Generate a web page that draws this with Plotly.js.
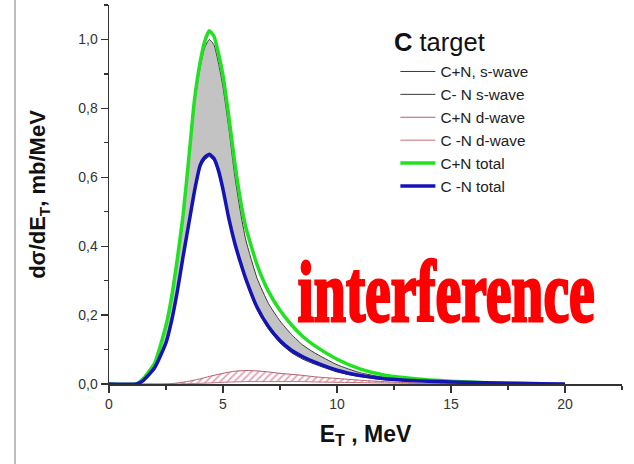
<!DOCTYPE html>
<html>
<head>
<meta charset="utf-8">
<script src="https://cdn.plot.ly/plotly-3.0.1.min.js"></script>
<style>html,body{margin:0;padding:0;background:#fff;}#chart{width:634px;height:464px;}</style>
</head>
<body>
<div id="chart"></div>
<script>
// Energy grid (MeV) for s-wave and total curves
const E = [0, 1.2, 1.5, 2, 2.5, 2.75, 3, 3.25, 3.5, 3.75, 4, 4.2, 4.4, 4.6, 4.8, 5, 5.25, 5.5, 5.75, 6, 6.5, 7, 7.5, 8, 8.5, 9, 10, 11, 12, 13, 14, 15, 16, 17, 18, 19, 20];
// C+N total (green)
const cnTotal = [0, 0, 0.015, 0.06, 0.17, 0.254, 0.365, 0.49, 0.655, 0.825, 0.935, 0.995, 1.025, 1.01, 0.96, 0.895, 0.779, 0.65, 0.54, 0.455, 0.345, 0.268, 0.214, 0.172, 0.138, 0.112, 0.072, 0.044, 0.027, 0.018, 0.012, 0.008, 0.005, 0.003, 0.001, null, null];
// C-N total (blue)
const cmnTotal = [0, 0, 0.01, 0.047, 0.12, 0.185, 0.27, 0.37, 0.465, 0.56, 0.635, 0.658, 0.667, 0.655, 0.62, 0.565, 0.482, 0.413, 0.356, 0.305, 0.222, 0.166, 0.126, 0.098, 0.079, 0.064, 0.04, 0.025, 0.016, 0.011, 0.008, 0.006, 0.004, 0.003, 0.002, 0.001, 0];
// C+N s-wave (upper edge of grey band)
const cnS = [0, 0, 0.015, 0.06, 0.17, 0.253, 0.362, 0.485, 0.647, 0.813, 0.92, 0.977, 1.0, 0.985, 0.932, 0.862, 0.745, 0.612, 0.505, 0.418, 0.306, 0.233, 0.183, 0.144, 0.113, 0.091, 0.056, 0.033, 0.02, 0.014, 0.01, 0.007, 0.004, 0.002, 0.001, 0, 0];
// C-N s-wave (lower edge of grey band)
const cmnS = [0, 0, 0.01, 0.047, 0.12, 0.184, 0.268, 0.367, 0.46, 0.555, 0.628, 0.65, 0.66, 0.648, 0.613, 0.56, 0.477, 0.407, 0.35, 0.298, 0.215, 0.159, 0.119, 0.091, 0.072, 0.058, 0.035, 0.021, 0.013, 0.009, 0.007, 0.005, 0.004, 0.003, 0.002, 0.001, 0];
// d-wave grid and curves
const Ed = [0, 2.5, 3, 3.5, 4, 4.4, 5, 5.5, 6, 6.5, 7, 7.5, 8, 8.5, 9, 10, 11, 12, 13, 14, 15, 15.5];
const cnD = [0, 0, 0.003, 0.008, 0.015, 0.022, 0.031, 0.037, 0.039, 0.038, 0.035, 0.031, 0.028, 0.025, 0.021, 0.016, 0.011, 0.007, 0.004, 0.002, 0.001, 0];
const cmnD = [0, 0, 0, 0.001, 0.002, 0.003, 0.005, 0.006, 0.007, 0.007, 0.007, 0.007, 0.007, 0.007, 0.006, 0.005, 0.004, 0.003, 0.002, 0.001, 0, 0];

const names = ['C+N, s-wave', 'C- N s-wave', 'C+N d-wave', 'C -N d-wave', 'C+N total', 'C -N total'];
const xTicks = [0, 5, 10, 15, 20];
const yTicks = [0, 0.2, 0.4, 0.6, 0.8, 1.0];

const sp = {shape: 'spline', smoothing: 0.5};
const traces = [
  // grey band between s-waves (fill only)
  {x: E, y: cmnS, mode: 'lines', line: {width: 0, ...sp}, showlegend: false, hoverinfo: 'skip'},
  {x: E, y: cnS, mode: 'lines', line: {width: 0, ...sp}, fill: 'tonexty', fillcolor: '#c3c3c3', showlegend: false, hoverinfo: 'skip'},
  // hatched band between d-waves (fill only)
  {x: Ed, y: cmnD, mode: 'lines', line: {width: 0, ...sp}, showlegend: false, hoverinfo: 'skip'},
  {x: Ed, y: cnD, mode: 'lines', line: {width: 0, ...sp}, fill: 'tonexty', fillcolor: 'rgba(255,255,255,0)',
   fillpattern: {shape: '/', fgcolor: '#e7a3b6', bgcolor: 'rgba(255,255,255,0)', size: 5, solidity: 0.35}, showlegend: false, hoverinfo: 'skip'},
  // lines
  {x: E, y: cnS, name: names[0], mode: 'lines', line: {color: '#3a3a3a', width: 1, ...sp}, legendrank: 1},
  {x: E, y: cmnS, name: names[1], mode: 'lines', line: {color: '#3a3a3a', width: 1, ...sp}, legendrank: 2},
  {x: Ed, y: cnD, name: names[2], mode: 'lines', line: {color: '#b0606e', width: 1, ...sp}, legendrank: 3},
  {x: Ed, y: cmnD, name: names[3], mode: 'lines', line: {color: '#c0707c', width: 1, ...sp}, legendrank: 4},
  {x: E, y: cnTotal, name: names[4], mode: 'lines', line: {color: '#22e022', width: 3.5, ...sp}, legendrank: 5},
  {x: E, y: cmnTotal, name: names[5], mode: 'lines', line: {color: '#1414b4', width: 3.5, ...sp}, legendrank: 6}
];

const layout = {
  width: 634, height: 464,
  margin: {l: 109, r: 12, t: 5, b: 80},
  paper_bgcolor: '#fff', plot_bgcolor: '#fff',
  separators: ', ',
  font: {family: 'Liberation Sans, Arial, sans-serif', color: '#222'},
  showlegend: true,
  legend: {
    x: 0.568, y: 0.868, xanchor: 'left', yanchor: 'top',
    bgcolor: 'rgba(255,255,255,0)', borderwidth: 0,
    font: {size: 15.3, color: '#222'},
    traceorder: 'normal', tracegroupgap: 0
  },
  xaxis: {
    range: [0, 22.5], tickvals: xTicks, ticks: 'outside', ticklen: 7, tickwidth: 1.2, tickcolor: '#333',
    showline: true, linecolor: '#333', linewidth: 1.5, showgrid: false, zeroline: false,
    tickfont: {size: 14, color: '#333'},
    minor: {dtick: 2.5, tick0: 0, ticks: 'outside', ticklen: 4, tickcolor: '#333', showgrid: false},
    title: {text: '<b>E<sub>T</sub> , MeV</b>', font: {size: 23, color: '#111'}, standoff: 14}
  },
  yaxis: {
    range: [0, 1.1], tickvals: yTicks, tickformat: '.1f', ticks: 'outside', ticklen: 7, tickwidth: 1.2, tickcolor: '#333',
    showline: true, linecolor: '#333', linewidth: 1.5, showgrid: false, zeroline: false,
    tickfont: {size: 14, color: '#333'},
    minor: {dtick: 0.1, tick0: 0, ticks: 'outside', ticklen: 4, tickcolor: '#333', showgrid: false},
    title: {text: '<b>dσ/dE<sub>T</sub>, mb/MeV</b>', font: {size: 22, color: '#111'}, standoff: 26}
  },
  shapes: [
    {type: 'line', xref: 'paper', yref: 'paper', x0: -0.1832, x1: -0.1832, y0: -0.22, y1: 1.02,
     line: {color: '#bdbdbd', width: 2}}
  ],
  annotations: [
    {xref: 'paper', yref: 'paper', x: 0.552, y: 0.902, xanchor: 'left', yanchor: 'middle', showarrow: false,
     text: '<b>C</b> target', font: {size: 25.5, color: '#111'}},
    {xref: 'paper', yref: 'paper', x: 0.657, y: 0.243, xanchor: 'center', yanchor: 'middle', showarrow: false,
     text: '<b>interference</b>', font: {family: 'Liberation Serif, DejaVu Serif, serif', size: 86, color: '#ff0000'}}
  ]
};

Plotly.newPlot('chart', traces, layout, {displayModeBar: false, staticPlot: true}).then(function () {
  const anns = document.querySelectorAll('.annotation-text');
  const t = anns[anns.length - 1];
  if (t) {
    // condense the heavy red label horizontally to the reference's width (~297 px)
    const bb = t.getBBox();
    const s = 297 / bb.width;
    const cx = bb.x + bb.width / 2;
    const prev = t.getAttribute('transform') || '';
    t.setAttribute('transform', prev + ' translate(' + cx + ',0) scale(' + s + ',1) translate(' + (-cx) + ',0)');
    t.style.stroke = '#ff0000';
    t.style.strokeWidth = '3px';
  }
  // longer legend line samples, as in the reference
  document.querySelectorAll('.legend .legendlines path').forEach(function (p) {
    p.setAttribute('d', 'M-7,0h42');
  });
});
</script>
</body>
</html>
